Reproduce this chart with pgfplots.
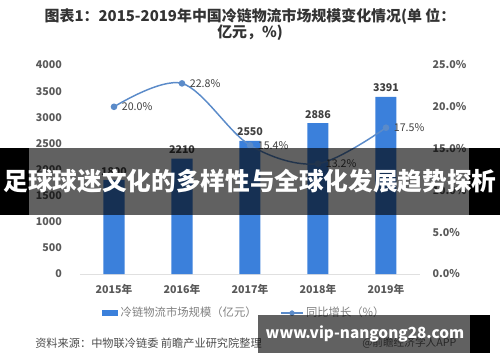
\documentclass[border=0pt]{standalone}
\usepackage{pgfplots}
\pgfplotsset{compat=1.18}
\usepackage{fontspec}
\setmainfont{Noto Sans CJK SC}
\definecolor{barblue}{HTML}{3B80DB}
\definecolor{lineblue}{HTML}{5B8BC9}
\definecolor{tickgray}{HTML}{595959}
\definecolor{titlegray}{HTML}{333333}
\begin{document}
\begin{tikzpicture}[x=0.75pt,y=0.75pt]
\path[use as bounding box] (0,0) rectangle (500,362);
% title
\node[font=\fontsize{11.2pt}{12.5pt}\selectfont\bfseries, text=titlegray, align=center, inner sep=0pt] at (250,337.5)
  {图表1：2015-2019年中国冷链物流市场规模变化情况(单 位：\\亿元，\%)};
% bars axis
\begin{axis}[
  at={(60pt,66pt)}, anchor=south west,
  scale only axis, width=255pt, height=156.75pt,
  xmin=-0.5, xmax=4.5, ymin=0, ymax=4000,
  axis x line*=bottom, axis y line*=left,
  x axis line style={draw=black!12, -},
  y axis line style={draw=none},
  xtick={0,1,2,3,4},
  xticklabels={2015年,2016年,2017年,2018年,2019年},
  ytick={0,500,1000,1500,2000,2500,3000,3500,4000},
  major tick length=0pt,
  /pgf/number format/assume math mode=true,
  /pgf/number format/1000 sep={},
  tick label style={font=\fontsize{8pt}{9pt}\selectfont\bfseries, text=tickgray},
  yticklabel style={xshift=-10pt},
  xticklabel style={yshift=-4pt},
  ybar, bar width=15.75pt,
  nodes near coords,
  nodes near coords style={font=\fontsize{8pt}{9pt}\selectfont\bfseries, text=black!75, /pgf/number format/1000 sep={}, /pgf/number format/assume math mode=true},
  clip=false,
  legend style={at={(0.484,-0.187)}, anchor=center, draw=none, fill=none, legend columns=2,
     font=\fontsize{8.5pt}{10pt}\selectfont, text=black!50,
     /tikz/every even column/.append style={column sep=16pt}},
  legend image code/.code={\fill[barblue] (0pt,-2.2pt) rectangle (12pt,2.2pt);},
]
\addplot[fill=barblue, draw=none] coordinates {(0,1800) (1,2210) (2,2550) (3,2886) (4,3391)};
\addlegendentry{冷链物流市场规模（亿元）}
\addlegendimage{legend image code/.code={\draw[lineblue, line width=1pt] (0pt,0pt) -- (16pt,0pt); \fill[lineblue] (8pt,0pt) circle (1.8pt);}}
\addlegendentry{同比增长（\%）}
\end{axis}
% line axis
\begin{axis}[
  at={(60pt,66pt)}, anchor=south west,
  scale only axis, width=255pt, height=156.75pt,
  xmin=-0.5, xmax=4.5, ymin=0, ymax=25,
  axis x line=none, axis y line*=right,
  y axis line style={draw=none},
  ytick={0,5,10,15,20,25},
  major tick length=0pt,
  yticklabel={\pgfmathprintnumber[fixed,fixed zerofill,precision=1]{\tick}\%},
  /pgf/number format/assume math mode=true,
  tick label style={font=\fontsize{8pt}{9pt}\selectfont\bfseries, text=tickgray},
  yticklabel style={xshift=6pt},
  clip=false,
]
\addplot[lineblue, line width=1.1pt, smooth, tension=0.55, mark=*, mark size=1.9pt,
  mark options={fill=lineblue, draw=lineblue},
  nodes near coords={\pgfmathprintnumber[fixed,fixed zerofill,precision=1]{\pgfplotspointmeta}\%},
  nodes near coords style={anchor=west, xshift=2pt, font=\fontsize{8pt}{9pt}\selectfont, text=black!75, /pgf/number format/assume math mode=true}]
  coordinates {(0,20.0) (1,22.8) (2,15.4) (3,13.2) (4,17.5)};
\end{axis}
% source line
\node[anchor=west, font=\fontsize{8.4pt}{9pt}\selectfont, text=black!70, inner sep=0pt] at (35,19) {资料来源：中物联冷链委 前瞻产业研究院整理};
\node[anchor=west, font=\fontsize{8pt}{9pt}\selectfont, text=black!60, inner sep=0pt] at (362,19) {@前瞻经济学人APP};
% middle banner overlay
\fill[black] (0,147) rectangle (29,214);
\fill[black, opacity=0.62] (29,147) rectangle (469,214);
\fill[black] (469,147) rectangle (500,214);
\node[font=\fontsize{18.5pt}{20pt}\selectfont\bfseries, text=white, inner sep=0pt] at (250,181) {足球球迷文化的多样性与全球化发展趋势探析};
% bottom banner overlay
\fill[black, opacity=0.62] (258,9) rectangle (470,47);
\fill[black] (470,9) rectangle (490,47);
\node[font=\fontsize{11.5pt}{14pt}\selectfont\bfseries, text=white, inner sep=0pt] at (365,28) {www.vip-nangong28.com};
\end{tikzpicture}
\end{document}
